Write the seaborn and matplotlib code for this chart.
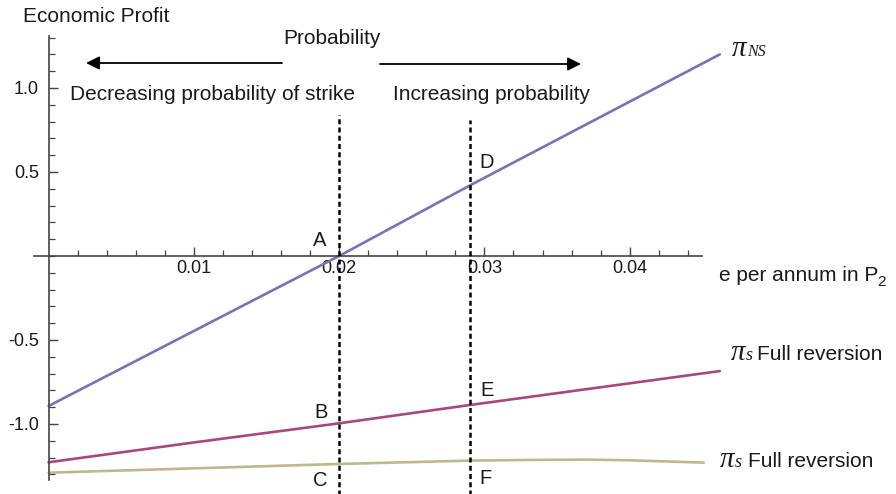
import numpy as np
import pandas as pd
import matplotlib
matplotlib.use("Agg")
import matplotlib.pyplot as plt
from matplotlib.ticker import FixedLocator
import seaborn as sns

# ---- data -----------------------------------------------------------------
# profit without strike (pi_NS)
e_ns = [0.0, 0.02, 0.029, 0.0462]
pi_ns = [-0.893, 0.0, 0.42, 1.20]

# profit with strike, upper curve
e_s1 = [0.0, 0.01, 0.02, 0.029, 0.0462]
pi_s1 = [-1.228, -1.11, -0.996, -0.887, -0.685]

# profit with strike, lower curve
e_s2 = [0.0, 0.01, 0.02, 0.029, 0.033, 0.037, 0.040, 0.0451]
pi_s2 = [-1.29, -1.264, -1.238, -1.218, -1.214, -1.212, -1.216, -1.23]

# critical growth rates marked with vertical lines
e_A = 0.02
e_D = 0.029

x_major = [0.01, 0.02, 0.03, 0.04]
x_labels = ["0.01", "0.02", "0.03", "0.04"]
y_major = [-1.0, -0.5, 0.5, 1.0]
y_labels = ["-1.0", "-0.5", "0.5", "1.0"]

# ---- style ----------------------------------------------------------------
sns.set_theme(style="white")
plt.rcParams["font.family"] = ["Liberation Sans", "DejaVu Sans"]
plt.rcParams["axes.unicode_minus"] = False

W, H = 896, 494
fig = plt.figure(figsize=(W / 100, H / 100), dpi=100)
ax = fig.add_axes([0, 0, 1, 1])
ax.set_facecolor("white")

# axes limits chosen so that the origin sits near the left edge
ax.set_xlim(-0.003338, 0.058328)
ax.set_ylim(-1.4167, 1.5238)

c_ns = "#7474b8"
c_s1 = "#a8477e"
c_s2 = "#c2b68c"

df = pd.concat([
    pd.DataFrame({"e": e_ns, "profit": pi_ns, "curve": "ns"}),
    pd.DataFrame({"e": e_s1, "profit": pi_s1, "curve": "s1"}),
    pd.DataFrame({"e": e_s2, "profit": pi_s2, "curve": "s2"}),
])
sns.lineplot(data=df, x="e", y="profit", hue="curve",
             palette={"ns": c_ns, "s1": c_s1, "s2": c_s2},
             estimator=None, sort=False, linewidth=1.9, legend=False, ax=ax)

# vertical dashed guides
ax.plot([e_A, e_A], [-1.45, 0.839], color="black", lw=1.8,
        dashes=(2.0, 1.3), zorder=3)
ax.plot([e_D, e_D], [-1.45, 0.81], color="black", lw=1.8,
        dashes=(2.0, 1.3), zorder=3)

# axes through the origin
for side in ("top", "right"):
    ax.spines[side].set_visible(False)
ax.spines["left"].set_position(("data", 0))
ax.spines["bottom"].set_position(("data", 0))
ax.spines["left"].set_bounds(-1.335, 1.31)
ax.spines["bottom"].set_bounds(-0.001, 0.045)
for side in ("left", "bottom"):
    ax.spines[side].set_color("#444444")
    ax.spines[side].set_linewidth(1.2)

ax.xaxis.set_major_locator(FixedLocator(x_major))
ax.xaxis.set_minor_locator(FixedLocator(np.arange(0.002, 0.0441, 0.002)))
ax.yaxis.set_major_locator(FixedLocator(y_major))
ax.yaxis.set_minor_locator(FixedLocator(np.arange(-1.3, 1.31, 0.1)))
ax.set_xticklabels(x_labels)
ax.set_yticklabels(y_labels)

ax.tick_params(axis="both", which="both", direction="in", color="#444444",
               labelsize=13, labelcolor="#1a1a1a")
ax.tick_params(axis="both", which="major", length=6.5, width=1.0)
ax.tick_params(axis="both", which="minor", length=4, width=0.9)
ax.tick_params(axis="x", which="both", bottom=True, top=False, pad=3)
ax.tick_params(axis="y", which="both", left=True, right=False, pad=7)
ax.set_xlabel("")
ax.set_ylabel("")
ax.grid(False)


def px(x, y):
    return x / W, 1 - y / H


txt = dict(transform=fig.transFigure, color="#1a1a1a", fontsize=15)

fig.text(*px(23, 22), "Economic Profit", va="baseline", ha="left", **txt)
fig.text(*px(283, 44), "Probability", va="baseline", ha="left", **txt)
fig.text(*px(70, 100), "Decreasing probability of strike", va="baseline",
         ha="left", **txt)
fig.text(*px(393, 100), "Increasing probability", va="baseline", ha="left",
         **txt)
fig.text(*px(719, 281), "e per annum in P", va="baseline", ha="left", **txt)
fig.text(*px(877, 286), "2", va="baseline", ha="left",
         transform=fig.transFigure, color="#1a1a1a", fontsize=11)

# direction arrows
arrow = dict(arrowstyle="-|>", color="black", lw=1.3, mutation_scale=20,
             shrinkA=0, shrinkB=0)
ax.annotate("", xy=px(86, 63), xytext=px(282, 63), xycoords="figure fraction",
            textcoords="figure fraction", arrowprops=arrow)
ax.annotate("", xy=px(581, 64), xytext=px(380, 64),
            xycoords="figure fraction", textcoords="figure fraction",
            arrowprops=arrow)

# point letters
letters = [("A", 320, 240), ("B", 321, 413), ("C", 320, 480),
           ("D", 487, 163), ("E", 487, 391), ("F", 485, 478)]
for s, x, y in letters:
    fig.text(*px(x, y), s, ha="center", va="center", fontsize=14.5,
             color="#1a1a1a", transform=fig.transFigure)

# curve labels
pi_font = dict(family="Liberation Serif", style="italic", color="#1a1a1a",
               transform=fig.transFigure, va="baseline", ha="left")
fig.text(*px(732, 56), "π", fontsize=21, **pi_font)
fig.text(*px(747, 56), "NS", fontsize=11.5, **pi_font)

fig.text(*px(731, 360), "π", fontsize=21, **pi_font)
fig.text(*px(746, 360), "s", fontsize=13, **pi_font)
fig.text(*px(757, 360), "Full reversion", va="baseline", ha="left", **txt)

fig.text(*px(720, 467), "π", fontsize=21, **pi_font)
fig.text(*px(735, 467), "s", fontsize=13, **pi_font)
fig.text(*px(748, 467), "Full reversion", va="baseline", ha="left", **txt)

fig.savefig("out.png", dpi=100, facecolor="white")
